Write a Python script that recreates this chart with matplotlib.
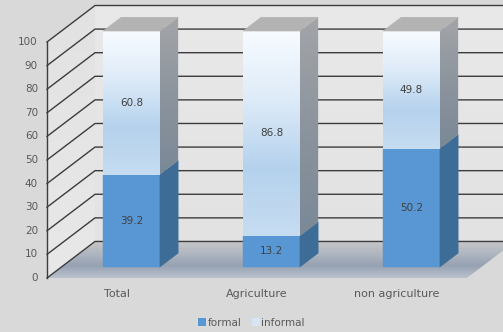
import numpy as np
import matplotlib.pyplot as plt
from matplotlib.patches import Polygon, Patch
from matplotlib.colors import LinearSegmentedColormap

categories = ["Total", "Agriculture", "non agriculture"]
formal = [39.2, 13.2, 50.2]
informal = [60.8, 86.8, 49.8]
yticks = list(range(0, 101, 10))

# fake 3d: depth offset of the back wall, in data units
DX = 0.343
DY = 15.47
F0, F1 = 0.30, 0.68   # depth range of the bars
W = 0.2036            # half bar width

BG = "#d9d9d9"
GRID = "#3c3c3c"
TXT = "#595959"


def proj(x, v, f):
    return (x + f * DX, v + f * DY)


def grad_poly(ax, pts, colors, z):
    pts = np.array(pts)
    poly = Polygon(pts, closed=True, facecolor="none", edgecolor="none")
    ax.add_patch(poly)
    cmap = LinearSegmentedColormap.from_list("g", colors)
    arr = np.linspace(0, 1, 256)[:, None]
    im = ax.imshow(arr, cmap=cmap, origin="upper", aspect="auto",
                   interpolation="bilinear",
                   extent=(pts[:, 0].min(), pts[:, 0].max(),
                           pts[:, 1].min(), pts[:, 1].max()), zorder=z)
    im.set_clip_path(poly)


def flat_poly(ax, pts, color, z):
    ax.add_patch(Polygon(pts, closed=True, facecolor=color, edgecolor=color,
                         linewidth=0.3, zorder=z))


fig = plt.figure(figsize=(5.03, 3.32), dpi=100, facecolor=BG)
ax = fig.add_axes([0, 0, 1, 1])
ax.set_facecolor(BG)

x0, x1 = -0.5, len(categories) - 0.5

# walls
back = [proj(x0, 0, 1), proj(x1, 0, 1), proj(x1, 100, 1), proj(x0, 100, 1)]
grad_poly(ax, back, ["#e9e9e9", "#e2e2e2"], 1)
left = [proj(x0, 0, 0), proj(x0, 0, 1), proj(x0, 100, 1), proj(x0, 100, 0)]
grad_poly(ax, left, ["#e2e2e2", "#e8e8e8"], 1)
floor = [proj(x0, 0, 0), proj(x1, 0, 0), proj(x1, 0, 1), proj(x0, 0, 1)]
grad_poly(ax, floor, ["#c6c6c6", "#b0b7c1", "#96a1b2", "#bac3cf"], 2)

# gridlines
for v in yticks:
    xa, ya = proj(x0, v, 0)
    xb, yb = proj(x0, v, 1)
    xc, yc = proj(x1, v, 1)
    ax.plot([xa, xb, xc], [ya, yb, yc], color=GRID, lw=1.0, zorder=3,
            solid_joinstyle="miter")
    ax.text(x0 - 0.065, v, str(v), ha="right", va="center", fontsize=7.5,
            color=TXT, zorder=6)
ax.plot([x0, x0], [0, 100], color=GRID, lw=1.0, zorder=3)

# bars
for i, cat in enumerate(categories):
    a, b = i - W, i + W
    segs = [(0, formal[i], "formal"), (formal[i], formal[i] + informal[i], "informal")]
    for v0, v1, kind in segs:
        front = [proj(a, v0, F0), proj(b, v0, F0), proj(b, v1, F0), proj(a, v1, F0)]
        side = [proj(b, v0, F0), proj(b, v0, F1), proj(b, v1, F1), proj(b, v1, F0)]
        if kind == "formal":
            flat_poly(ax, front, "#5897d3", 4)
            flat_poly(ax, side, "#3d6c96", 4)
        else:
            grad_poly(ax, front, ["#f7fbff", "#deebf8", "#b5d2ed", "#c6dcf1"], 4)
            grad_poly(ax, side, ["#a3a5a8", "#8c949d", "#7a8896"], 4)
        cx, cy = proj(i, (v0 + v1) / 2, F0)
        ax.text(cx, cy, f"{v1 - v0:.1f}", ha="center", va="center",
                fontsize=7.5, color="#404040", zorder=6)
    top = [proj(a, 100, F0), proj(b, 100, F0), proj(b, 100, F1), proj(a, 100, F1)]
    flat_poly(ax, top, "#b3b3b3", 5)
    ax.text(i, -6.8, cat, ha="center", va="center", fontsize=8, color=TXT)

ax.set_xlim(-117 / 140, 386 / 140)
ax.set_ylim(-22.9, 117.8)
ax.axis("off")

handles = [Patch(facecolor="#5897d3", edgecolor="none", label="formal"),
           Patch(facecolor="#d6e6f5", edgecolor="none", label="informal")]
leg = fig.legend(handles=handles, loc="lower center", bbox_to_anchor=(0.5, -0.015),
                 ncol=2, frameon=False, fontsize=7.5, handlelength=0.75,
                 handleheight=0.75, handletextpad=0.15, columnspacing=1.0)
for t in leg.get_texts():
    t.set_color(TXT)

fig.savefig("out.png", dpi=100, facecolor=BG)
